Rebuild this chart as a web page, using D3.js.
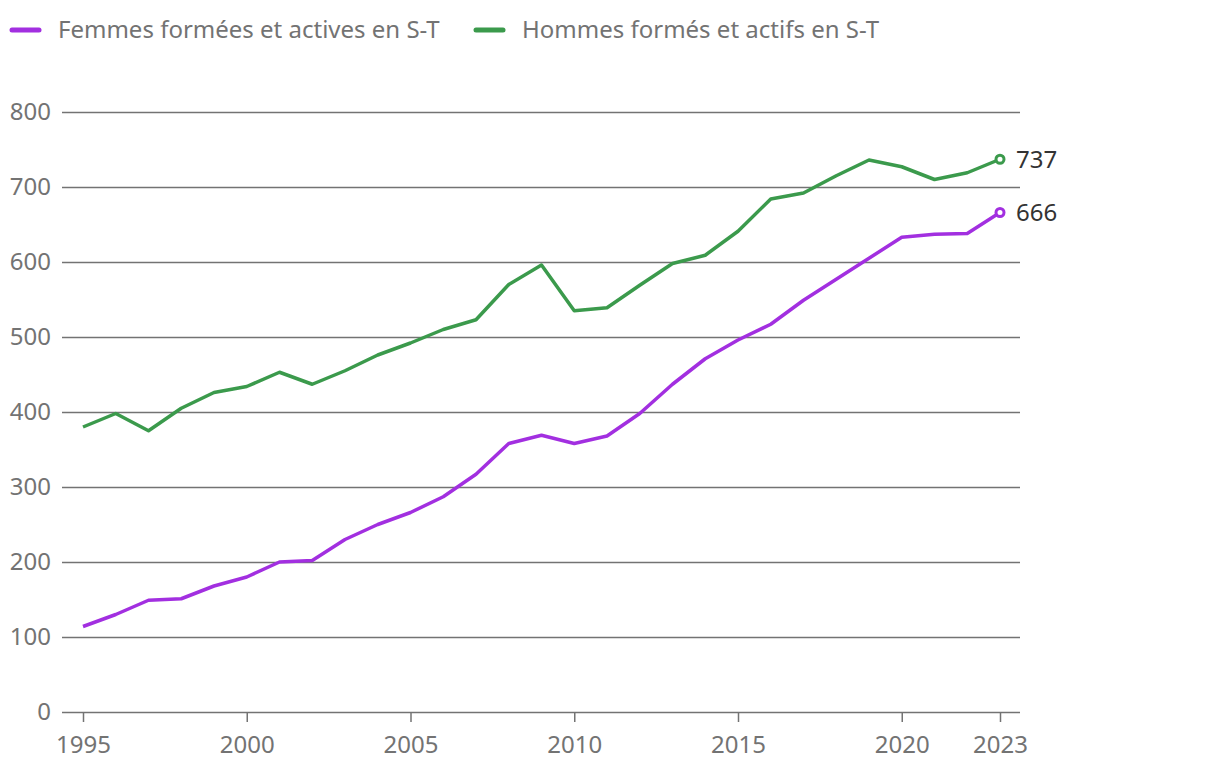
<!DOCTYPE html>
<html>
<head>
<meta charset="utf-8">
<script src="https://cdn.jsdelivr.net/npm/d3@7"></script>
<style>
  body { margin: 0; background: #fff; }
  svg { font-family: "Noto Sans", "Open Sans", sans-serif; }
</style>
</head>
<body>
<svg id="chart" width="1220" height="778"></svg>
<script>
// Data
const years = d3.range(1995, 2024);
const femmes = [114, 130, 149, 151, 168, 180, 200, 202, 230, 250, 266, 287, 317, 358, 369, 358, 368, 398, 437, 471, 496, 517, 549, 577, 605, 633, 637, 638, 666];
const hommes = [380, 398, 375, 405, 426, 434, 453, 437, 455, 476, 492, 510, 523, 570, 596, 535, 539, 569, 598, 609, 641, 684, 692, 715, 736, 727, 710, 719, 737];
const xTicks = [1995, 2000, 2005, 2010, 2015, 2020, 2023];
const yTicks = [0, 100, 200, 300, 400, 500, 600, 700, 800];

const series = [
    { name: "Femmes formées et actives en S-T", values: femmes, color: "#a22fe0" },
    { name: "Hommes formés et actifs en S-T", values: hommes, color: "#3b9a4c" }
];

const svg = d3.select("#chart");
const gridColor = "#737373";
const plotLeft = 62, plotRight = 1020, plotTop = 112, plotBottom = 712;

const x = d3.scaleLinear().domain([1995, 2023]).range([83, 1000]);
const y = d3.scaleLinear().domain([0, 800]).range([plotBottom, plotTop]);

// Horizontal gridlines + y labels
const yAxis = svg.append("g")
    .attr("transform", `translate(${plotLeft},0)`)
    .call(d3.axisLeft(y).tickValues(yTicks).tickSize(-(plotRight - plotLeft)).tickPadding(11));
yAxis.select(".domain").remove();
yAxis.selectAll(".tick line").attr("stroke", gridColor).attr("stroke-width", 1.5);
yAxis.selectAll(".tick text")
    .attr("fill", gridColor)
    .style("font-size", "24px")
    .style("font-family", "'Noto Sans', 'Open Sans', sans-serif");

// X axis
const xAxis = svg.append("g")
    .attr("transform", `translate(0,${plotBottom})`)
    .call(d3.axisBottom(x).tickValues(xTicks).tickFormat(d3.format("d")).tickSize(10).tickSizeOuter(0).tickPadding(14));
xAxis.select(".domain").remove();
xAxis.selectAll(".tick line").attr("stroke", gridColor).attr("stroke-width", 1.5);
xAxis.selectAll(".tick text")
    .attr("fill", gridColor)
    .style("font-size", "24px")
    .style("font-family", "'Noto Sans', 'Open Sans', sans-serif");

// Lines
const line = d3.line()
    .x((d, i) => x(years[i]))
    .y(d => y(d));

series.forEach(s => {
    svg.append("path")
        .datum(s.values)
        .attr("fill", "none")
        .attr("stroke", s.color)
        .attr("stroke-width", 3.5)
        .attr("stroke-linejoin", "round")
        .attr("d", line);

    const last = s.values[s.values.length - 1];
    const lastYear = years[years.length - 1];
    svg.append("circle")
        .attr("cx", x(lastYear))
        .attr("cy", y(last))
        .attr("r", 4)
        .attr("fill", "#fff")
        .attr("stroke", s.color)
        .attr("stroke-width", 3);
    svg.append("text")
        .attr("x", x(lastYear) + 16)
        .attr("y", y(last))
        .attr("dy", "0.35em")
        .attr("fill", "#333")
        .style("font-size", "24px")
        .text(last);
});

// Legend
const legendX = [10, 474];
series.forEach((s, i) => {
    const g = svg.append("g").attr("transform", `translate(${legendX[i]},30)`);
    g.append("line")
        .attr("x1", 2).attr("x2", 29)
        .attr("stroke", s.color)
        .attr("stroke-width", 5)
        .attr("stroke-linecap", "round");
    g.append("text")
        .attr("x", 48)
        .attr("dy", "0.35em")
        .attr("fill", gridColor)
        .style("font-size", "24px")
        .text(s.name);
});
</script>
</body>
</html>
